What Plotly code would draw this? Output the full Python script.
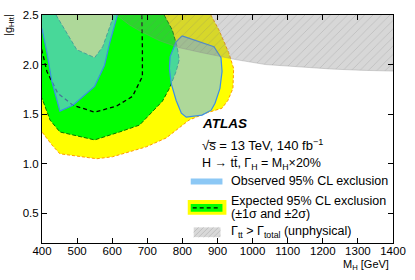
import plotly.graph_objects as go

# ---------------- data ----------------
# expected -2 sigma contour (outer edge of yellow band)
exp2_x = [881, 904, 932, 946, 944, 930, 913, 867, 819, 791, 754, 697, 601, 556, 451, 428, 400]
exp2_y = [2.50, 2.35, 2.12, 1.96, 1.76, 1.64, 1.56, 1.51, 1.44, 1.36, 1.26, 1.17, 1.07, 1.05, 1.10, 1.19, 1.32]

# expected -1 sigma contour (outer edge of green band)
exp1_x = [748, 771, 785, 791, 782, 763, 743, 706, 678, 621, 550, 451, 423, 400]
exp1_y = [2.50, 2.35, 2.18, 2.05, 1.93, 1.76, 1.63, 1.49, 1.39, 1.32, 1.24, 1.32, 1.44, 1.66]

# expected +1 sigma contour (inner edge of green band)
exp1p_x = [440, 465, 499, 550, 573, 595, 604]
exp1p_y = [2.50, 2.35, 2.15, 2.07, 2.18, 2.40, 2.50]

# median expected contour
med_x = [400, 414, 445, 488, 550, 612, 658, 686, 686, 683]
med_y = [2.14, 1.93, 1.71, 1.59, 1.52, 1.58, 1.68, 1.88, 2.17, 2.50]

# observed exclusion, low-mass region
obs1_x = [400, 414, 428, 451, 488, 550, 578, 593, 615]
obs1_y = [2.36, 2.12, 1.83, 1.53, 1.59, 1.78, 1.99, 2.22, 2.50]

# observed exclusion, island near 850 GeV
obs2_x = [799, 848, 890, 910, 913, 907, 893, 882, 856, 811, 797, 782, 768, 763, 765, 782, 799]
obs2_y = [2.29, 2.23, 2.18, 2.07, 1.93, 1.76, 1.61, 1.54, 1.49, 1.47, 1.51, 1.64, 1.81, 1.96, 2.08, 2.23, 2.29]

# unphysical boundary (Gamma_tt = Gamma_total)
unph_x = [612, 649, 678, 735, 791, 855, 952, 1037, 1130, 1224, 1310, 1400]
unph_y = [2.50, 2.40, 2.34, 2.24, 2.17, 2.12, 2.05, 2.00, 1.975, 1.955, 1.942, 1.93]

x_ticks = [400, 500, 600, 700, 800, 900, 1000, 1100, 1200, 1300, 1400]
y_ticks = [0.5, 1.0, 1.5, 2.0, 2.5]

X_LO, X_HI = 400, 1400
Y_LO, Y_HI = 0.2, 2.5
EXT = 0.3  # extension outside the frame so polygon edges are clipped

FONT = "Liberation Sans, Arial, Helvetica, sans-serif"
YELLOW = "#ffff00"
GREEN = "#00ff00"


def band(xs, ys, close_pts):
    return list(xs) + [p[0] for p in close_pts], list(ys) + [p[1] for p in close_pts]


fig = go.Figure()

# yellow (+-2 sigma)
yx, yy = band(exp2_x, exp2_y, [(X_LO - 30, exp2_y[-1]), (X_LO - 30, Y_HI + EXT), (exp2_x[0], Y_HI + EXT)])
fig.add_trace(go.Scatter(x=yx, y=yy, mode="lines", fill="toself", fillcolor=YELLOW,
                         line=dict(color="#ff9900", width=1, dash="3px,2px"), hoverinfo="skip"))

# green (+-1 sigma)
gx, gy = band(exp1_x, exp1_y, [(X_LO - 30, exp1_y[-1]), (X_LO - 30, Y_HI + EXT), (exp1_x[0], Y_HI + EXT)])
fig.add_trace(go.Scatter(x=gx, y=gy, mode="lines", fill="toself", fillcolor=GREEN,
                         line=dict(color="#007700", width=1, dash="4px,2px"), hoverinfo="skip"))

# inner part (inside +1 sigma) back to yellow
ix, iy = band(exp1p_x, exp1p_y, [(exp1p_x[-1], Y_HI + EXT), (exp1p_x[0], Y_HI + EXT)])
fig.add_trace(go.Scatter(x=ix, y=iy, mode="lines", fill="toself", fillcolor=YELLOW,
                         line=dict(color="#007700", width=1, dash="4px,2px"), hoverinfo="skip"))

# median expected
mx = [X_LO - 10] + med_x + [med_x[-1]]
my = [med_y[0] + 0.15] + med_y + [Y_HI + EXT]
fig.add_trace(go.Scatter(x=mx, y=my, mode="lines",
                         line=dict(color="black", width=1.3, dash="4px,3px"), hoverinfo="skip"))

OBS_FILL = "rgba(120,190,255,0.6)"
OBS_LINE = "#3a8ee6"
# observed region 1
ox, oy = band(obs1_x, obs1_y, [(obs1_x[-1], Y_HI + EXT), (X_LO - 30, Y_HI + EXT), (X_LO - 30, obs1_y[0] + 0.05)])
ox = [X_LO - 30] + ox
oy = [obs1_y[0] + 0.05] + oy
fig.add_trace(go.Scatter(x=ox, y=oy, mode="lines", fill="toself", fillcolor=OBS_FILL,
                         line=dict(color=OBS_LINE, width=1.2), hoverinfo="skip"))
# observed region 2
fig.add_trace(go.Scatter(x=obs2_x, y=obs2_y, mode="lines", fill="toself", fillcolor=OBS_FILL,
                         line=dict(color=OBS_LINE, width=1.2), hoverinfo="skip"))

# unphysical hatched region
hx = [unph_x[0]] + unph_x + [X_HI + 50, X_HI + 50, unph_x[0]]
hy = [Y_HI + EXT] + unph_y + [unph_y[-1], Y_HI + EXT, Y_HI + EXT]
fig.add_trace(go.Scatter(x=hx, y=hy, mode="lines", fill="toself",
                         fillcolor="rgba(130,130,130,0.32)",
                         fillpattern=dict(shape="/", bgcolor="rgba(130,130,130,0.32)",
                                          fgcolor="rgb(120,120,120)", fgopacity=0.3,
                                          size=6, solidity=0.12),
                         line=dict(color="rgba(140,140,140,0.6)", width=0.6), hoverinfo="skip"))

# ---------------- layout ----------------
W, H = 415, 280
L, R, T, B = 42, 19, 9.5, 37
PW, PH = W - L - R, H - T - B


def P(px, py):
    # page pixel -> paper fraction
    return (px - L) / PW, (H - B - py) / PH


shapes = []


def rect(px0, py0, px1, py1, color):
    x0, y0 = P(px0, py1)
    x1, y1 = P(px1, py0)
    shapes.append(dict(type="rect", xref="paper", yref="paper", x0=x0, y0=y0, x1=x1, y1=y1,
                       fillcolor=color, line=dict(width=0), layer="above"))


# legend swatches
rect(192, 177, 224, 183, "rgb(140,200,245)")
rect(189, 199, 228, 214, YELLOW)
rect(192, 203, 224, 211, GREEN)
a0, b0 = P(194, 207)
a1, b1 = P(222, 207)
shapes.append(dict(type="line", xref="paper", yref="paper", x0=a0, y0=b0, x1=a1, y1=b1,
                   line=dict(color="black", width=1.3, dash="4px,3px"), layer="above"))
rect(195, 227, 222, 237, "rgb(216,216,216)")
# hatch lines in the unphysical swatch
sx0, sx1, sy0, sy1 = 195, 222, 227, 237
hh = sy1 - sy0
for k in range(-10, 30, 5):
    xa, ya = sx0 + k, sy1
    xb, yb = sx0 + k + hh, sy0
    if xa < sx0:
        ya = ya - (sx0 - xa)
        xa = sx0
    if xb > sx1:
        yb = yb + (xb - sx1)
        xb = sx1
    if xa >= xb:
        continue
    p0 = P(xa, ya)
    p1 = P(xb, yb)
    shapes.append(dict(type="line", xref="paper", yref="paper", x0=p0[0], y0=p0[1], x1=p1[0], y1=p1[1],
                       line=dict(color="rgb(185,185,185)", width=0.8), layer="above"))

annotations = []


def text(px, py, s, size=12.5, anchor="left", **kw):
    x, y = P(px, py)
    annotations.append(dict(xref="paper", yref="paper", x=x, y=y, text=s, showarrow=False,
                            xanchor=anchor, yanchor="middle",
                            font=dict(family=FONT, size=size, color="black"), **kw))


text(201, 121, "<b><i>ATLAS</i></b>", size=13.5)
text(201, 143, "√s̅ = 13 TeV, 140 fb<sup>−1</sup>", size=13)
text(201, 162, "H → tt̄, Γ<sub>H</sub> = M<sub>H</sub>×20%")
text(231, 180, "Observed 95% CL exclusion")
text(231, 200, "Expected 95% CL exclusion")
text(231, 213, "(±1σ and ±2σ)")
text(231, 232, "Γ<sub>tt</sub> > Γ<sub>total</sub> (unphysical)")
text(394, 266, "M<sub>H</sub> [GeV]", size=11, anchor="right")

# y axis title, rotated
yx_, yy_ = P(8, 6)
annotations.append(dict(xref="paper", yref="paper", x=yx_, y=yy_, text="|g<sub>Htt</sub>|",
                        showarrow=False, textangle=-90, xanchor="center", yanchor="top",
                        font=dict(family=FONT, size=11, color="black")))

axis_common = dict(showgrid=False, zeroline=False, showline=True, linecolor="black", linewidth=1,
                   mirror="ticks", ticks="inside", ticklen=5, tickwidth=1, tickcolor="black",
                   tickfont=dict(family=FONT, size=11.5, color="black"))

fig.update_layout(
    width=W, height=H,
    margin=dict(l=L, r=R, t=T, b=B, pad=0),
    paper_bgcolor="white", plot_bgcolor="white",
    showlegend=False,
    xaxis=dict(range=[X_LO, X_HI], tickvals=x_ticks, ticktext=[str(v) for v in x_ticks],
               ticklabelstandoff=-3, **axis_common),
    yaxis=dict(range=[Y_LO, Y_HI], tickvals=y_ticks, ticktext=[f"{v:.1f}" for v in y_ticks], **axis_common),
    shapes=shapes,
    annotations=annotations,
)

fig.write_html("out.html", config={"displayModeBar": False},
               post_script="document.body.style.margin='0px';document.body.style.overflow='hidden';")
